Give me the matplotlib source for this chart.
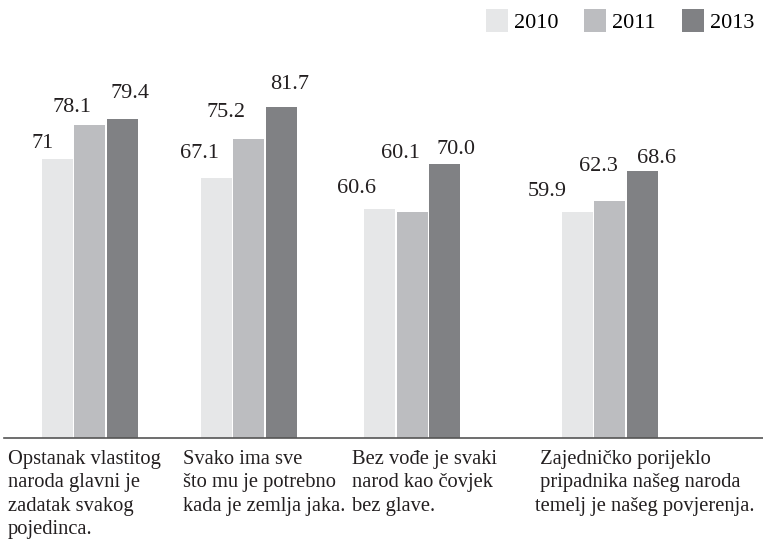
import numpy as np
import matplotlib
matplotlib.use('Agg')
import matplotlib.pyplot as plt
from matplotlib.patches import Patch

plt.rcParams['font.family'] = ['Liberation Serif', 'DejaVu Serif']

# Data
categories = [
    "Opstanak vlastitog\nnaroda glavni je\nzadatak svakog\npojedinca.",
    "Svako ima sve\nšto mu je potrebno\nkada je zemlja jaka.",
    "Bez vođe je svaki\nnarod kao čovjek\nbez glave.",
    " Zajedničko porijeklo\n pripadnika našeg naroda\ntemelj je našeg povjerenja.",
]
years = ['2010', '2011', '2013']
values_2010 = [71, 67.1, 60.6, 59.9]
values_2011 = [78.1, 75.2, 60.1, 62.3]
values_2013 = [79.4, 81.7, 70.0, 68.6]
label_2010 = ['71', '67.1', '60.6', '59.9']
label_2011 = ['78.1', '75.2', '60.1', '62.3']
label_2013 = ['79.4', '81.7', '70.0', '68.6']

colors = ['#e6e7e8', '#bcbdc0', '#808184']

# Layout (x in pixels of the axes width)
group_centers = np.array([85.5, 244.5, 408, 605.5])
bar_step = 32.5
bar_width = 31
# offsets of the value labels from the bar top centre, in pixels
label_dx = [[-14, -16.5, -23, -29.5],
            [-17, -22.5, -12, -11.5],
            [7.5, 8.5, 11.5, 14]]
label_dy = [[11, 20, 16, 16],
            [13, 22, 54, 30],
            [21, 18, 10, 8]]
cat_label_x = [8, 183, 352, 535]

fig = plt.figure(figsize=(7.63, 5.46), dpi=100)
ax = fig.add_axes([4 / 763, 108 / 546, 759 / 763, 398 / 546])

series = [values_2010, values_2011, values_2013]
labels = [label_2010, label_2011, label_2013]
for k in range(3):
    xs = group_centers + (k - 1) * bar_step
    bars = ax.bar(xs, series[k], width=bar_width, bottom=0, color=colors[k],
                  linewidth=0)
    for i, (b, txt) in enumerate(zip(bars, labels[k])):
        ax.annotate(txt, (b.get_x() + b.get_width() / 2, b.get_height()),
                    xytext=(label_dx[k][i], label_dy[k][i]),
                    textcoords='offset pixels',
                    ha='center', va='baseline', fontsize=16, color='#231f20')

ax.set_xlim(0, 759)
ax.set_ylim(13.1, 95.7)
for s in ['top', 'right', 'left']:
    ax.spines[s].set_visible(False)
ax.spines['bottom'].set_color('#555555')
ax.spines['bottom'].set_linewidth(1.2)
ax.set_xticks([])
ax.set_yticks([])

# Category labels below the axis
for x, txt in zip(cat_label_x, categories):
    fig.text(x / 763, 1 - 450 / 546, txt, ha='left', va='top', fontsize=14.8,
             linespacing=1.31, color='#231f20')

handles = [Patch(facecolor=c, edgecolor='none') for c in colors]
fig.legend(handles, years, loc='upper right', bbox_to_anchor=(1.0, 1.0),
           ncol=3, frameon=False, fontsize=16, handlelength=1.0,
           handleheight=1.2, handletextpad=0.27, columnspacing=1.15,
           borderaxespad=0.2, borderpad=0.2)

fig.savefig('out.png', dpi=100)
